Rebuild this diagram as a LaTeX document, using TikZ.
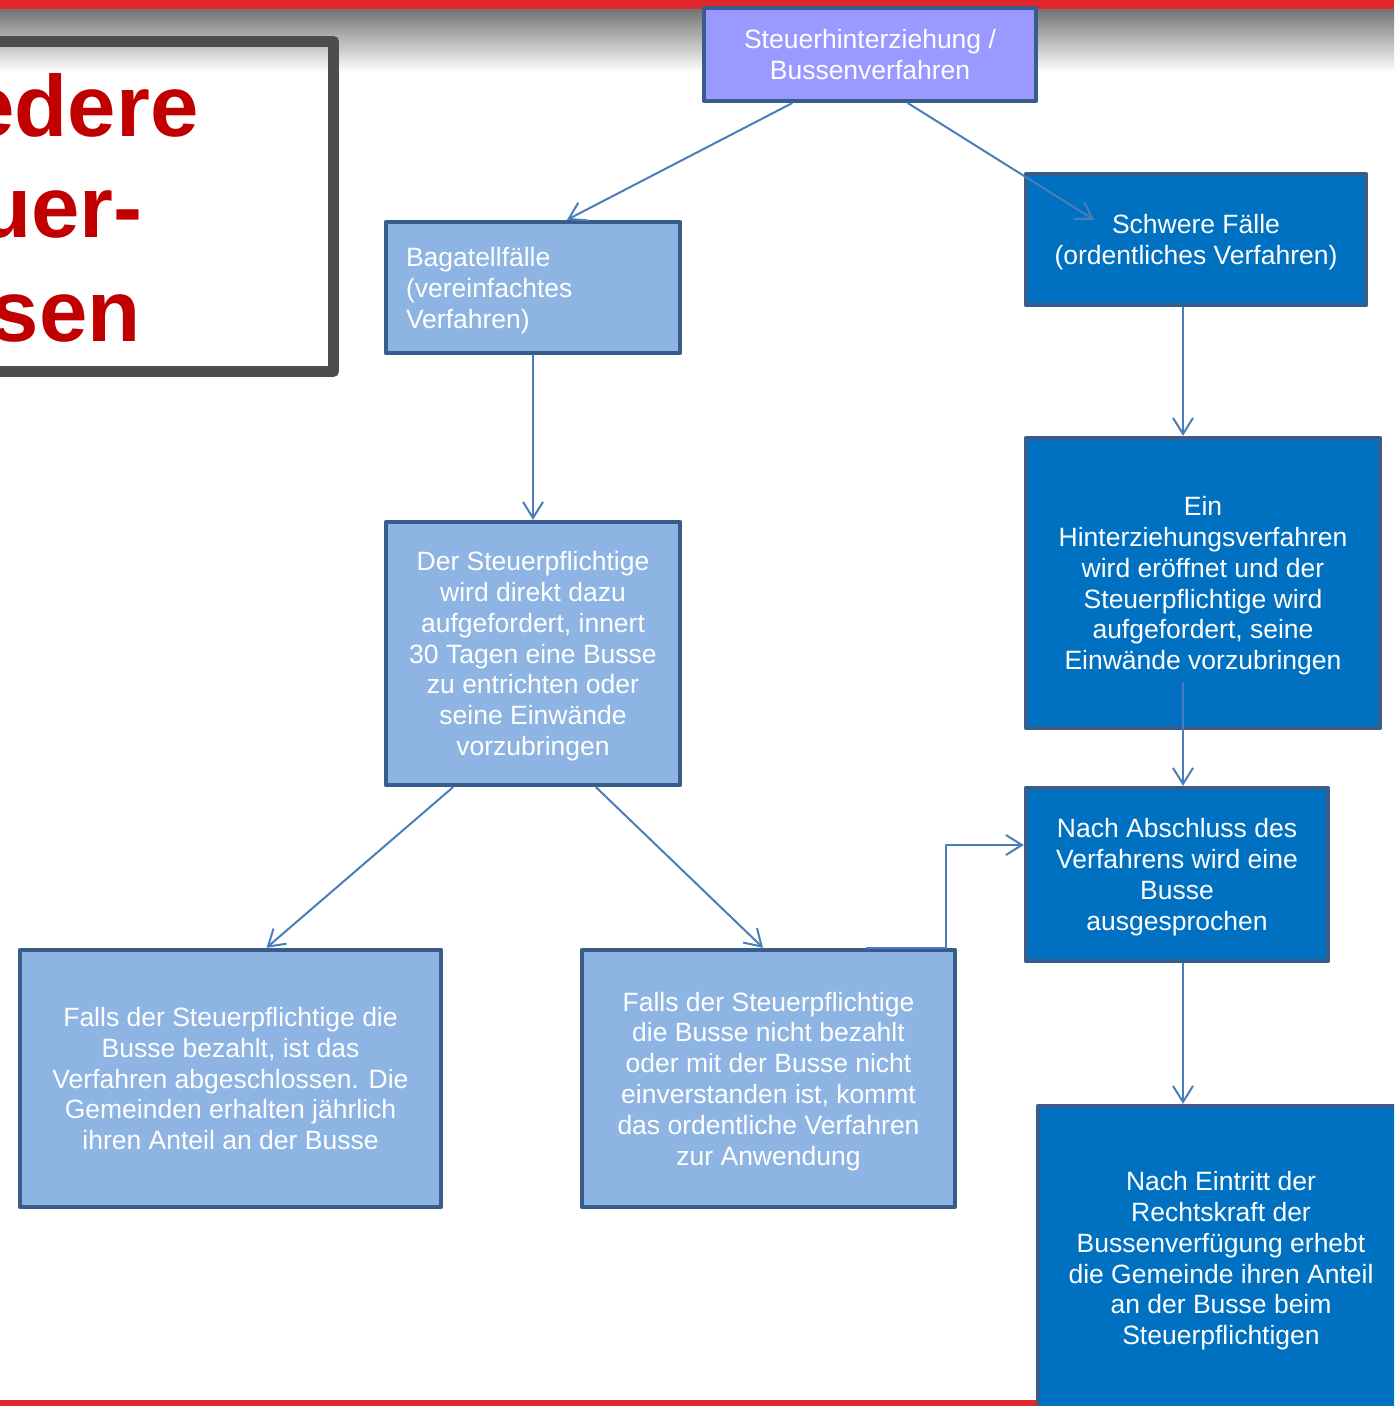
\documentclass[tikz,border=0pt]{standalone}
\usepackage{fontspec}
\setmainfont{Liberation Sans}
\usetikzlibrary{arrows.meta}
\definecolor{barred}{RGB}{224,40,44}
\definecolor{framegray}{RGB}{77,77,77}
\definecolor{titlered}{RGB}{192,0,0}
\definecolor{boxline}{RGB}{56,93,138}
\definecolor{lightfill}{RGB}{142,180,227}
\definecolor{darkfill}{RGB}{0,112,192}
\definecolor{topfill}{RGB}{153,153,255}
\definecolor{connblue}{RGB}{74,126,187}
\tikzset{
	flowbox/.style={draw=boxline, line width=2.2pt, rectangle, text=white, align=center, text depth=0pt},
	lbox/.style={flowbox, fill=lightfill},
	dbox/.style={flowbox, fill=darkfill},
	tbox/.style={flowbox, fill=topfill},
	conn/.style={->, draw=connblue, line width=1pt},
	titleword/.style={anchor=base east, text=titlered, font=\fontsize{43.5}{52}\selectfont\bfseries, inner sep=0pt}
}
\begin{document}
\begin{tikzpicture}[x=0.5pt, y=-0.5pt, >={Straight Barb[length=8pt,width=10pt]}, font=\fontsize{13.25}{15.4}\selectfont, line join=round, line cap=round]
	\clip (0,0) rectangle (1394,1406);
	\fill[white] (0,0) rectangle (1394,1406);
	% top band
	\shade[top color=black!55, bottom color=white] (0,9) rectangle (1394,72);
	\fill[barred] (0,0) rectangle (1394,9.5);
	\fill[barred] (0,1400) rectangle (1036,1406);
	% title frame
	\draw[framegray, line width=5.5pt, line cap=butt] (-20,41.5) rectangle (333.5,371.5);
	\node[titleword] (w1) at (199,137) {edere};
	\node[titleword] (w2) at (143,238) {uer-};
	\node[titleword] (w3) at (141,342) {sen};
	% boxes
	\node[tbox, minimum width=166pt, minimum height=46.5pt] (top) at (870,54.5) {Steuerhinterziehung /\\Bussenverfahren};
	\node[lbox, minimum width=147pt, minimum height=65.5pt, align=left, text width=127pt, text depth=30.6pt, inner xsep=10pt] (bag) at (533,287.5) {Bagatellfälle\\(vereinfachtes\\Verfahren)};
	\node[dbox, minimum width=170pt, minimum height=65.5pt] (schwer) at (1196,239.5) {Schwere Fälle\\(ordentliches Verfahren)};
	\node[lbox, minimum width=147pt, minimum height=131.5pt] (dst) at (533,653.5) {Der Steuerpflichtige\\wird direkt dazu\\aufgefordert, innert\\30 Tagen eine Busse\\zu entrichten oder\\seine Einwände\\vorzubringen};
	\node[dbox, minimum width=177pt, minimum height=145pt] (ein) at (1203,583) {Ein\\Hinterziehungsverfahren\\wird eröffnet und der\\Steuerpflichtige wird\\aufgefordert, seine\\Einwände vorzubringen};
	\node[dbox, minimum width=151pt, minimum height=86.5pt] (abschl) at (1177,874.5) {Nach Abschluss des\\Verfahrens wird eine\\Busse\\ausgesprochen};
	\node[lbox, minimum width=210.5pt, minimum height=128.5pt] (falls1) at (230.5,1078.5) {Falls der Steuerpflichtige die\\Busse bezahlt, ist das\\Verfahren abgeschlossen. Die\\Gemeinden erhalten jährlich\\ihren Anteil an der Busse};
	\node[lbox, minimum width=186.5pt, minimum height=128.5pt] (falls2) at (768.5,1078.5) {Falls der Steuerpflichtige\\die Busse nicht bezahlt\\oder mit der Busse nicht\\einverstanden ist, kommt\\das ordentliche Verfahren\\zur Anwendung};
	\node[dbox, minimum width=183pt, minimum height=152pt] (eintritt) at (1221,1258) {Nach Eintritt der\\Rechtskraft der\\Bussenverfügung erhebt\\die Gemeinde ihren Anteil\\an der Busse beim\\Steuerpflichtigen};
	% connectors
	\draw[conn] ([xshift=-39pt]top.south) -- ([xshift=17pt]bag.north);
	\draw[conn] ([xshift=19pt]top.south) -- ([xshift=-51pt,yshift=-24pt]schwer.north);
	\draw[conn] ([xshift=-6.5pt]schwer.south) -- ([xshift=-10pt]ein.north);
	\draw[conn] (bag.south) -- (dst.north);
	\draw[conn] ([xshift=-10pt,yshift=23.5pt]ein.south) -- ([xshift=3pt]abschl.north);
	\draw[conn] ([xshift=-40pt]dst.south) -- ([xshift=18pt]falls1.north);
	\draw[conn] ([xshift=31.5pt]dst.south) -- ([xshift=-2.75pt]falls2.north);
	\draw[conn] ([xshift=49pt]falls2.north) -- ++(79,0) |- ([yshift=14.75pt]abschl.west);
	\draw[conn] ([xshift=3pt]abschl.south) -- ([xshift=-19pt]eintritt.north);
\end{tikzpicture}
\end{document}
